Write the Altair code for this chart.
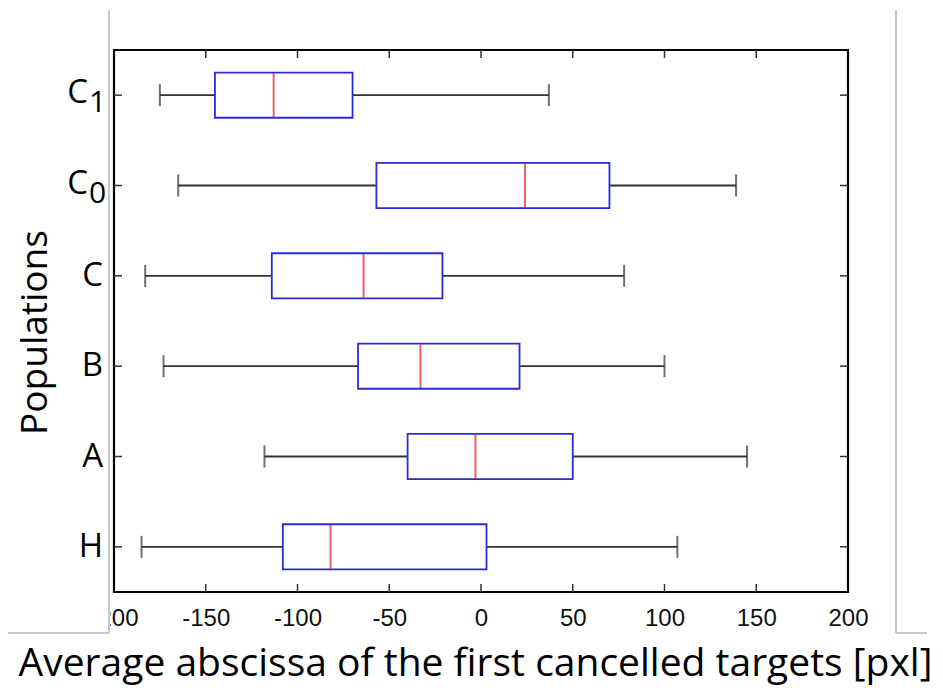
import altair as alt
import pandas as pd

groups = ["C₁", "C₀", "C", "B", "A", "H"]
letters = ["C", "C", "C", "B", "A", "H"]
subscripts = ["1", "0", "", "", "", ""]
whisker_low = [-175, -165, -183, -173, -118, -185]
q1 = [-145, -57, -114, -67, -40, -108]
median = [-113, 24, -64, -33, -3, -82]
q3 = [-70, 70, -21, 21, 50, 3]
whisker_high = [37, 139, 78, 100, 145, 107]

x_ticks = [-200, -150, -100, -50, 0, 50, 100, 150, 200]
inner_ticks = [-150, -100, -50, 0, 50, 100, 150]

df = pd.DataFrame({"group": groups, "letter": letters, "sub": subscripts,
                   "low": whisker_low, "q1": q1, "med": median, "q3": q3,
                   "high": whisker_high})
tdf = pd.DataFrame({"xv": inner_ticks})

W, H = 734, 542
XT = "Average abscissa of the first cancelled targets [pxl]"

xscale = alt.Scale(domain=[-200, 200], nice=False, zero=False)
xaxis = alt.Axis(values=x_ticks, ticks=False, domain=False, grid=False, zindex=0,
                 labelExpr="'' + datum.value",
                 labelFont="Liberation Sans", labelFontSize=24, labelColor="#111",
                 labelPadding=14, labelFlush=False, labelOverlap=False,
                 title=XT, titleFont="Open Sans", titleFontSize=39,
                 titleFontWeight="normal", titleColor="#000",
                 titleX=361, titleY=83, titleAlign="center",
                 titleBaseline="alphabetic")
yscale = alt.Scale(domain=groups, paddingInner=0.5, paddingOuter=0.25)
yaxis = alt.Axis(ticks=False, domain=False, grid=False, labels=False, zindex=0,
                 title="Populations", titleFont="Open Sans", titleFontSize=37,
                 titleFontWeight="normal", titleColor="#000",
                 titleAngle=-90, titleX=-79, titleY=282, titleAlign="center",
                 titleBaseline="middle")


def X(f):
    return alt.X(f, type="quantitative", scale=xscale, axis=xaxis, title=XT)


def Y():
    return alt.Y("group:N", sort=groups, scale=yscale, axis=yaxis, title="Populations")


base = alt.Chart(df)

whisk = base.mark_rule(color="#333333", strokeWidth=1.8).encode(
    x=X("low"), x2="high", y=Y())
cap_lo = base.mark_tick(color="#333333", thickness=2, size=22, orient="vertical").encode(
    x=X("low"), y=Y())
cap_hi = base.mark_tick(color="#333333", thickness=2, size=22, orient="vertical").encode(
    x=X("high"), y=Y())
box = base.mark_bar(fill="white", stroke="#2b2bd6", strokeWidth=1.8).encode(
    x=X("q1"), x2="q3", y=Y())
med = base.mark_tick(color="#e02020", thickness=2, size=44, orient="vertical").encode(
    x=X("med"), y=Y())

# category labels (letter + lowered subscript digit, as in the original)
lab_single = base.transform_filter("datum.sub == ''").mark_text(
    font="Open Sans", fontSize=33, align="right", baseline="middle", color="#000"
).encode(y=Y(), x=alt.value(-11), text="letter:N")
lab_main = base.transform_filter("datum.sub != ''").mark_text(
    font="Open Sans", fontSize=33, align="right", baseline="middle", color="#000", dy=-2
).encode(y=Y(), x=alt.value(-26), text="letter:N")
lab_sub = base.transform_filter("datum.sub != ''").mark_text(
    font="Open Sans", fontSize=30, align="left", baseline="middle", color="#000", dy=8
).encode(y=Y(), x=alt.value(-25), text="sub:N")

tb = alt.Chart(tdf)
tick_bot = tb.mark_rule(color="#333", strokeWidth=1.5).encode(
    x=X("xv"), y=alt.value(H - 8), y2=alt.value(H))
tick_top = tb.mark_rule(color="#333", strokeWidth=1.5).encode(
    x=X("xv"), y=alt.value(0), y2=alt.value(8))
tick_l = base.mark_rule(color="#333", strokeWidth=1.5).encode(
    y=Y(), x=alt.value(0), x2=alt.value(8))
tick_r = base.mark_rule(color="#333", strokeWidth=1.5).encode(
    y=Y(), x=alt.value(W - 8), x2=alt.value(W))

# page-crop artefacts of the original figure
cover = base.mark_rect(fill="white").encode(
    x=alt.value(-106), x2=alt.value(-4), y=alt.value(550), y2=alt.value(583))
g1 = base.mark_rule(color="#c8c8c8", strokeWidth=1).encode(
    x=alt.value(-5), y=alt.value(-40), y2=alt.value(583))
g2 = base.mark_rule(color="#c8c8c8", strokeWidth=1).encode(
    x=alt.value(-106), x2=alt.value(-5), y=alt.value(583))
g3 = base.mark_rule(color="#c8c8c8", strokeWidth=1).encode(
    x=alt.value(782), y=alt.value(-40), y2=alt.value(583))
g4 = base.mark_rule(color="#c8c8c8", strokeWidth=1).encode(
    x=alt.value(782), x2=alt.value(813), y=alt.value(583))

chart = alt.layer(whisk, box, cap_lo, cap_hi, med, tick_bot, tick_top, tick_l, tick_r,
                  lab_single, lab_main, lab_sub,
                  cover, g1, g2, g3, g4).properties(
    width=W, height=H,
    background="white",
    autosize=alt.AutoSizeParams(type="none"),
    padding={"left": 106, "top": 42, "right": 87, "bottom": 95},
).configure_view(stroke="black", strokeWidth=2.2)

chart.save("out.html", embed_options={"renderer": "svg", "actions": False})
